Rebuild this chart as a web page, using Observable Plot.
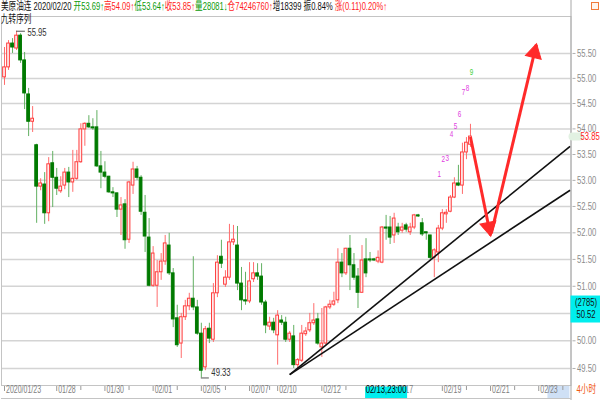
<!DOCTYPE html>
<html><head><meta charset="utf-8">
<script src="https://cdn.jsdelivr.net/npm/d3@7"></script>
<script src="https://cdn.jsdelivr.net/npm/@observablehq/plot@0.6"></script>
<style>
html,body{margin:0;padding:0;background:#fff;}
#wrap{position:relative;width:600px;height:400px;overflow:hidden;background:#fff;}
#chart svg{display:block;}
#hdr{position:absolute;left:1px;top:1px;font-family:"Liberation Sans","Noto Sans CJK SC",sans-serif;font-size:11px;line-height:11px;white-space:nowrap;transform:scaleX(0.69);transform-origin:0 0;color:#111;}
#hdr div{height:11px;}
#hdr .l2{margin-top:2px;}
#icon{position:absolute;left:591px;top:2px;width:6px;height:6px;border:1px solid #f07a3a;background:#fff5ee;}
</style></head>
<body><div id="wrap"><div id="chart"></div><div id="hdr"></div><div id="icon"></div></div>
<script>
// ---- data (4-hour candles, index 0 = 2020/01/23) ----
const opens = [
55.02,55.22,55.70,55.60,55.86,55.36,54.68,54.14,53.68,52.88,
52.92,52.37,53.33,53.05,52.79,52.90,53.15,52.96,53.03,53.35,
53.99,54.10,54.03,54.03,53.27,53.15,53.07,52.77,52.75,52.44,
52.54,51.87,52.90,53.21,53.05,52.38,51.91,51.01,51.01,51.26,
51.46,51.76,51.24,50.41,49.95,50.43,50.63,50.77,50.61,50.13,
49.52,50.22,50.02,50.87,51.55,51.03,51.16,51.82,51.76,51.05,
50.74,50.72,51.13,51.24,51.18,50.70,50.26,50.33,50.10,50.37,
50.33,50.02,50.08,49.56,49.64,50.12,50.19,50.32,50.39,49.88,
49.95,50.61,50.66,50.74,51.44,51.24,51.70,51.39,51.18,50.88,
51.50,51.50,51.50,51.46,51.44,52.10,52.10,51.95,52.10,52.04,
52.14,52.01,52.10,52.33,52.18,52.01,51.95,51.53,51.63,52.08,
52.35,52.40,52.67,52.94,52.90,53.54,53.69];
const highs = [
55.62,55.76,55.80,55.95,55.90,55.52,54.80,54.44,53.70,53.03,
53.15,53.44,53.56,53.23,53.07,53.23,53.25,53.58,53.58,54.10,
54.12,54.26,54.20,54.36,53.56,53.36,53.08,52.86,52.76,52.67,
52.63,52.98,53.35,53.27,53.09,52.71,52.27,51.74,51.48,51.61,
51.95,51.99,51.33,50.65,50.50,50.74,50.87,51.55,50.74,50.32,
50.26,50.32,51.05,51.57,51.86,51.29,52.16,52.14,52.12,51.35,
51.26,51.44,51.44,51.42,51.42,50.74,50.43,50.41,50.55,50.46,
50.43,50.17,50.28,49.68,50.28,50.24,50.50,50.68,50.50,50.59,
50.63,50.74,50.89,51.70,51.61,51.71,51.95,51.61,51.33,51.76,
51.89,51.63,51.52,51.66,52.12,52.33,52.31,52.37,52.18,52.18,
52.18,52.18,52.35,52.35,52.27,52.01,51.95,51.70,52.14,52.44,
52.44,52.71,53.05,53.29,53.72,53.83,54.09];
const lows = [
54.86,55.16,55.50,55.56,55.30,54.38,53.85,53.93,52.18,52.80,
52.16,52.21,52.48,52.71,52.75,52.82,52.67,52.77,53.00,53.33,
53.66,54.01,53.97,53.25,52.84,53.03,52.75,52.67,52.29,51.95,
51.69,51.80,52.73,53.00,52.33,51.63,50.99,50.98,50.61,51.11,
51.39,51.20,50.24,49.88,49.68,50.37,50.55,50.55,50.10,49.33,
49.46,49.95,49.97,50.79,51.33,50.98,51.11,51.76,50.92,50.55,
50.65,50.68,51.07,51.11,50.65,50.13,50.19,50.13,49.56,50.28,
49.97,49.97,49.50,49.48,49.61,50.08,50.15,50.28,49.92,49.70,
49.92,50.57,50.63,50.68,51.16,51.20,50.92,51.11,50.59,50.87,
51.16,51.44,51.46,51.42,51.42,51.86,51.78,51.80,51.95,51.99,
52.01,51.95,52.06,52.29,51.93,51.86,51.48,51.16,51.44,52.04,
52.18,52.38,52.65,52.88,52.73,53.40,53.64];
const closes = [
55.22,55.70,55.62,55.86,55.36,54.70,54.14,54.20,52.88,52.94,
52.37,53.31,53.05,52.84,52.88,53.15,52.96,53.03,53.35,53.99,
54.10,54.03,54.01,53.27,53.15,53.07,52.77,52.75,52.44,52.52,
51.86,52.96,53.21,53.05,52.40,51.93,51.01,51.61,51.26,51.46,
51.80,51.24,50.39,49.92,50.43,50.63,50.77,50.61,50.13,49.46,
50.21,50.04,50.87,51.44,51.42,51.16,51.82,51.87,51.05,50.74,
50.72,51.09,51.24,51.18,50.70,50.28,50.33,50.19,50.46,50.33,
50.02,50.13,49.56,49.65,50.13,50.17,50.32,50.37,49.95,49.95,
50.61,50.66,50.72,51.44,51.24,51.70,51.39,51.16,50.88,51.48,
51.24,51.48,51.48,51.53,52.10,52.08,51.91,52.27,52.01,52.10,
52.06,52.10,52.33,52.31,51.97,51.99,51.53,51.67,52.08,52.37,
52.38,52.67,52.94,52.90,53.54,53.73,53.85];

const priceTicks = [49.5,50,50.5,51,51.5,52,52.5,53,53.5,54,54.5,55,55.5];
const dateTickIdx = [0,13,25,37,49,61,68,79,97,109,121,133];
const dateTickLabels = ["2020/01/23","01/28","01/30","02/01","02/05","02/07","02/10","02/12","02/17","02/19","02/21","02/23"];
const minorTickIdx = [19,31,43,55,66,85,91,115,127,139];

// 九转序列 counts
const seqIdx = [108,109,110,111,112,113,114,115,116];
const seqPrice = [53.13,53.42,53.44,53.89,54.05,54.30,54.72,54.80,55.12];
const seqText = ["1","2","3","4","5","6","7","8","9"];

// extreme labels
const highMark = {i: 3, v: 55.95};
const lowMark = {i: 49, v: 49.33};

// trend lines (start index/price, end index/price)
const trendStartIdx = [71, 71];
const trendStartPrice = [49.39, 49.39];
const trendEndIdx = [140.8, 140.8];
const trendEndPrice = [53.66, 52.81];

// red arrows
const arrowFromIdx = [116, 121.2];
const arrowFromPrice = [53.84, 51.99];
const arrowToIdx = [121, 132.4];
const arrowToPrice = [51.95, 55.68];

// cursor read-out & last price
const cursor = {i: 95, price: 50.52, count: 2785, time: "02/13,23:00"};
const lastPrice = 53.85;
const futureShadeIdx = 137.9;
const periodLabel = "4小时";

const headerParts = [
  ["美原油连 2020/02/20 ", "#111"],
  ["开53.69↑", "#0a9a0a"], ["高54.09↑", "#ff2222"], ["低53.64↑", "#0a9a0a"],
  ["收53.85↑", "#ff2222"], ["量28081↓", "#0a9a0a"], ["仓74246760↑", "#ff2222"],
  ["增18399 振0.84% ", "#111"], ["涨(0.11)0.20%↑", "#ff2222"]
];
const subTitle = "九转序列";

// ---- build ----
const candles = opens.map((o, i) => ({i, o, h: highs[i], l: lows[i], c: closes[i], up: closes[i] >= o}));
const ups = candles.filter(d => d.up), downs = candles.filter(d => !d.up);
const trends = trendStartIdx.map((v, k) => ({i1: v, p1: trendStartPrice[k], i2: trendEndIdx[k], p2: trendEndPrice[k]}));
const arrows = arrowFromIdx.map((v, k) => ({i1: v, p1: arrowFromPrice[k], i2: arrowToIdx[k], p2: arrowToPrice[k]}));
const seq = seqIdx.map((v, k) => ({i: v, p: seqPrice[k], t: seqText[k]}));
const dateTicks = dateTickIdx.map((v, k) => ({i: v, t: dateTickLabels[k]}));
const xDomain = [-0.75, 141.03];
const yDomain = [49.195, 56.25];
const M = {left: 1, right: 29.5, top: 16, bottom: 15};
const W = 0.34;
const RED = "#ff2a2a";

// screen-space helpers from the same scales
const sx = d3.scaleLinear(xDomain, [M.left, 600 - M.right]);
const sy = d3.scaleLog(yDomain, [400 - M.bottom, M.top]);
const headMarks = arrows.map(a => {
  const vx = sx(a.i2) - sx(a.i1), vy = sy(a.p2) - sy(a.p1);
  const len = Math.hypot(vx, vy), ux = vx / len, uy = vy / len;
  const ang = Math.atan2(vx, -vy) * 180 / Math.PI;
  return Plot.dot([a], {x: "i2", y: "p2", symbol: "triangle", r: 6, rotate: ang, fill: RED, stroke: RED, strokeWidth: 1, dx: -ux * 8.5, dy: -uy * 8.5});
});
// axis labels hidden under the cursor read-out box are not drawn (as in the reference)
const shownTicks = priceTicks.filter(v => Math.abs(sy(v) - (sy(cursor.price) - 3.3)) > 14);

const chart = Plot.plot({
  width: 600, height: 400,
  marginLeft: M.left, marginRight: M.right, marginTop: M.top, marginBottom: M.bottom,
  x: {type: "linear", domain: xDomain, axis: null},
  y: {type: "log", domain: yDomain, axis: null},
  style: {fontFamily: "'Liberation Sans','Noto Sans CJK SC',sans-serif", fontSize: "11px", background: "#fff"},
  marks: [
    Plot.ruleY(priceTicks, {stroke: "#d4d4d4", strokeWidth: 1.5}),
    Plot.frame({stroke: "#c4c4c4"}),
    // bottom axis box
    Plot.ruleX([futureShadeIdx], {stroke: "#cfe0f5", strokeWidth: 22, insetTop: 370, insetBottom: -13}),
    Plot.ruleY([yDomain[0]], {dy: 13, stroke: "#c4c4c4"}),
    Plot.ruleX([xDomain[1]], {stroke: "#a8a8a8", insetTop: -16, insetBottom: -15}),
    // wicks
    Plot.ruleX(ups, {x: "i", y1: "l", y2: "h", stroke: "#ff6d6d", strokeWidth: 1}),
    Plot.ruleX(downs, {x: "i", y1: "l", y2: "h", stroke: "#62b062", strokeWidth: 1}),
    // bodies
    Plot.rect(ups, {x1: d => d.i - W, x2: d => d.i + W, y1: "o", y2: "c", fill: "#ffeeee", stroke: "#ff3d3d", strokeWidth: 1}),
    Plot.rect(downs, {x1: d => d.i - W, x2: d => d.i + W, y1: "o", y2: "c", fill: "#007a00", stroke: "#007a00", strokeWidth: 1}),
    // trend lines
    Plot.link(trends, {x1: "i1", y1: "p1", x2: "i2", y2: "p2", stroke: "#111", strokeWidth: 1.6}),
    // arrows
    Plot.link(arrows, {x1: "i1", y1: "p1", x2: "i2", y2: "p2", stroke: RED, strokeWidth: 3}),
    ...headMarks,
    // 九转 numbers
    Plot.text(seq, {x: "i", y: "p", text: "t", fontSize: 9, dx: 1, fill: d => d.t === "9" ? "#3ccf3c" : "#e03ce0"}),
    // extreme annotations
    Plot.ruleY([highMark], {y: "v", x1: "i", x2: d => d.i + 2.2, stroke: "#555"}),
    Plot.text([highMark], {x: d => d.i + 2.2, y: "v", text: d => d.v.toFixed(2), textAnchor: "start", dx: 2, dy: 1, fill: "#333"}),
    Plot.ruleY([lowMark], {y: "v", x1: "i", x2: d => d.i + 2, stroke: "#555"}),
    Plot.text([lowMark], {x: d => d.i + 2, y: "v", text: d => d.v.toFixed(2), textAnchor: "start", dx: 2, dy: -5, fill: "#333"}),
    // right axis
    Plot.ruleY(priceTicks, {insetLeft: 571.5, insetRight: -5, stroke: "#b0b0b0"}),
    Plot.text(shownTicks, {y: d => d, text: d => d.toFixed(2), frameAnchor: "right", dx: 6, textAnchor: "start", fill: "#8c8c8c"}),
    Plot.ruleY([lastPrice], {insetLeft: 571.5, insetRight: -9, stroke: "#e2f1e2", strokeWidth: 8, strokeLinecap: "round"}),
    Plot.text([lastPrice], {y: d => d, text: d => d.toFixed(2), frameAnchor: "right", dx: 9.5, textAnchor: "start", fill: "#ff2020"}),
    Plot.ruleY([cursor], {y: "price", insetLeft: 569.5, insetRight: -29.5, dy: -3.3, stroke: "#00eeee", strokeWidth: 27}),
    Plot.text([cursor], {y: "price", text: d => `(${d.count})`, frameAnchor: "right", textAnchor: "middle", dx: 15, dy: -10, fill: "#111"}),
    Plot.text([cursor], {y: "price", text: d => d.price.toFixed(2), frameAnchor: "right", textAnchor: "middle", dx: 15, dy: 2, fill: "#111"}),
    // bottom axis
    Plot.ruleX(dateTickIdx, {insetTop: 370, insetBottom: -6, stroke: "#9a9a9a"}),
    Plot.ruleX(minorTickIdx, {insetTop: 370, insetBottom: -5, stroke: "#9a9a9a"}),
    Plot.text(dateTicks, {x: "i", text: "t", frameAnchor: "bottom", dy: 7, dx: 1.5, textAnchor: "start", fontSize: 10, fill: "#7e7e7e"}),
    Plot.ruleX([cursor], {x: "i", insetTop: 370.5, insetBottom: -13, stroke: "#00eeee", strokeWidth: 42}),
    Plot.text([cursor], {x: "i", text: "time", frameAnchor: "bottom", textAnchor: "middle", dy: 7, fill: "#000", fontSize: 11}),
    Plot.text([periodLabel], {text: d => d, frameAnchor: "bottom-right", dx: 5.5, dy: 7, textAnchor: "start", fill: "#f05a14"})
  ]
});

// horizontally condensed text as in the reference
chart.querySelectorAll("text").forEach(t => {
  const tr = t.getAttribute("transform") || "";
  if (/translate/.test(tr)) t.setAttribute("transform", tr + " scale(0.7,1)");
  else if (t.hasAttribute("x")) {
    const x = +t.getAttribute("x"); t.removeAttribute("x");
    t.setAttribute("transform", `${tr} translate(${x},0) scale(0.7,1)`);
  }
});
document.getElementById("chart").appendChild(chart);

const hdr = document.getElementById("hdr");
const l1 = document.createElement("div");
headerParts.forEach(([txt, col]) => { const s = document.createElement("span"); s.textContent = txt; s.style.color = col; l1.appendChild(s); });
const l2 = document.createElement("div"); l2.className = "l2"; l2.textContent = subTitle;
hdr.appendChild(l1); hdr.appendChild(l2);
</script></body></html>
